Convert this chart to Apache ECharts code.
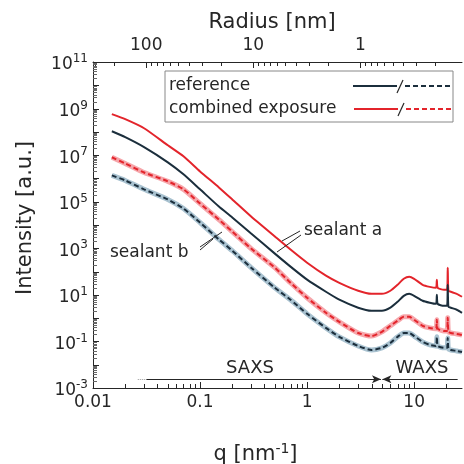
<!DOCTYPE html>
<html>
<head>
<meta charset="utf-8">
<script src="https://cdn.jsdelivr.net/npm/echarts@6/dist/echarts.min.js"></script>
<style>
  html, body { margin: 0; padding: 0; background: #fff; }
  #chart { width: 464px; height: 464px; }
</style>
</head>
<body>
<div id="chart"></div>
<script>
const FONT = 'DejaVu Sans'
const INK = '#262626'
const NAVY = '#1b2e3c'
const RED = '#e3242b'
const NAVY_HALO = '#a9c2d0'
const RED_HALO = '#f6a6ab'

// q [nm^-1]
const q = [0.015, 0.02, 0.03, 0.05, 0.07, 0.1, 0.15, 0.2, 0.3, 0.5, 0.7, 1, 1.5, 2, 3, 4, 5, 6, 7, 8, 9, 10,
  12, 14, 16, 16.3, 16.6, 19, 20.3, 20.6, 20.9, 22, 25, 28]
// sealant a (solid lines)
const refA = [1.06e8, 5.9e7, 2.2e7, 4.9e6, 1.5e6, 3.4e5, 6.2e4, 2.1e4, 4.3e3, 590, 163, 45, 13.6, 6.2, 2.8, 2.07, 2.07, 2.8, 5.0, 9.1, 11.1, 9.1,
  5.6, 4.6, 4.1, 10.1, 4.1, 3.4, 3.4, 27, 3.1, 2.8, 2.3, 1.7]
const combA = [5.8e8, 3.5e8, 1.43e8, 2.65e7, 8.9e6, 2.0e6, 4.1e5, 1.25e5, 2.3e4, 3.2e3, 880, 240, 67, 33, 15, 11.1, 11.1, 15, 27, 49, 60, 49,
  27, 22, 20, 45, 20, 16.6, 16.6, 147, 15, 13.6, 11.1, 8.3]
// sealant b (dashed lines)
const refB = [1.35e6, 8.2e5, 3.4e5, 1.25e5, 5.1e4, 1.28e4, 2.4e3, 790, 147, 20, 6.2, 1.53, 0.38, 0.157, 0.064, 0.043, 0.053, 0.086, 0.157, 0.23, 0.23, 0.17,
  0.095, 0.071, 0.064, 0.157, 0.064, 0.053, 0.053, 0.142, 0.048, 0.043, 0.039, 0.035]
const combB = [8.1e6, 4.4e6, 1.8e6, 7.5e5, 3.4e5, 8.4e4, 1.7e4, 5.2e3, 970, 147, 33, 7.5, 1.7, 0.69, 0.23, 0.17, 0.26, 0.47, 0.77, 1.14, 1.14, 0.85,
  0.47, 0.38, 0.35, 0.85, 0.35, 0.28, 0.28, 1.03, 0.26, 0.23, 0.21, 0.19]

const qMin = 0.01
const qMax = 28
const iMin = 1e-3
const iMax = 1e11
const qTicks = [0.01, 0.1, 1, 10]
const radiusTicks = [100, 10, 1]
const intensityLabels = [1e-3, 1e-1, 1e1, 1e3, 1e5, 1e7, 1e9, 1e11]

// SAXS / WAXS ranges (q), drawn as arrows
const saxsDots = [0.0262, 0.0316]
const saxs = [0.0316, 4.9]
const waxs = [5.05, 25.5]
const arrowLevel = 2.4e-3

const rMin = Math.PI / qMax
const rMax = Math.PI / qMin

// 1..9 x 10^n between lo and hi
function allTicks (lo, hi) {
  const out = []
  for (let e = Math.floor(Math.log10(lo)); e <= Math.ceil(Math.log10(hi)); e++) {
    for (let m = 1; m < 10; m++) {
      const v = +(m * Math.pow(10, e)).toPrecision(3)
      if (v >= lo * 0.999 && v <= hi * 1.001) out.push(v)
    }
  }
  return out
}

function isDecade (v) {
  const l = Math.log10(v)
  return Math.abs(l - Math.round(l)) < 1e-6
}

function pairs (ys) {
  return q.map((x, i) => [x, ys[i]])
}

function curve (ys, color, width, dash, z) {
  return {
    type: 'line',
    data: pairs(ys),
    showSymbol: false,
    symbol: 'none',
    smooth: 0.2,
    z: z,
    lineStyle: { color: color, width: width, type: dash || 'solid' }
  }
}

function sup (v) {
  return '10{sup|' + Math.round(Math.log10(v)) + '}'
}

const noLine = { show: false }
const axisLine = { show: true, onZero: false, lineStyle: { color: INK, width: 1 } }

const chart = echarts.init(document.getElementById('chart'))

const arrowSeries = curve(refA, NAVY, 2, null, 6)
arrowSeries.markLine = {
  silent: true,
  animation: false,
  label: { show: false },
  symbolSize: [6, 9],
  lineStyle: { color: INK, width: 1, type: 'solid' },
  data: [
    [{ coord: [saxsDots[0], arrowLevel], symbol: 'none', lineStyle: { type: 'dotted', color: '#999' } },
      { coord: [saxsDots[1], arrowLevel], symbol: 'none' }],
    [{ coord: [saxs[0], arrowLevel], symbol: 'none' }, { coord: [saxs[1], arrowLevel], symbol: 'arrow' }],
    [{ coord: [waxs[1], arrowLevel], symbol: 'none' }, { coord: [waxs[0], arrowLevel], symbol: 'arrow' }]
  ]
}

const option = {
  animation: false,
  backgroundColor: '#fff',
  textStyle: { fontFamily: FONT },
  grid: { left: 93, right: 2, top: 62, bottom: 76, containLabel: false, outerBoundsMode: 'none' },
  xAxis: [
    {
      type: 'log', position: 'bottom', min: qMin, max: qMax,
      axisLine: axisLine,
      axisTick: noLine,
      minorTick: noLine,
      axisLabel: { customValues: qTicks, formatter: v => String(v), fontSize: 17, fontFamily: FONT, color: INK, margin: 6 },
      splitLine: noLine,
      name: 'q [nm{sup|-1}]',
      nameLocation: 'middle',
      nameGap: 54,
      nameMoveOverlap: false,
      nameTextStyle: {
        fontSize: 21, fontFamily: FONT, color: INK, padding: [0, 44, 0, 0],
        rich: { sup: { fontSize: 14, fontFamily: FONT, color: INK, padding: [0, 0, 12, 0] } }
      }
    },
    {
      type: 'log', position: 'top', inverse: true, min: rMin, max: rMax,
      axisLine: axisLine,
      axisTick: noLine,
      minorTick: noLine,
      axisLabel: { customValues: radiusTicks, formatter: v => String(v), fontSize: 17, fontFamily: FONT, color: INK, margin: 8 },
      splitLine: noLine,
      name: 'Radius [nm]',
      nameLocation: 'middle',
      nameGap: 29,
      nameMoveOverlap: false,
      nameTextStyle: { fontSize: 21, fontFamily: FONT, color: INK, padding: [0, 11, 0, 0] }
    }
  ],
  yAxis: [
    {
      type: 'log', position: 'left', min: iMin, max: iMax,
      axisLine: axisLine,
      axisTick: noLine,
      minorTick: noLine,
      axisLabel: {
        customValues: intensityLabels, formatter: sup, fontSize: 17, fontFamily: FONT, color: INK, margin: 5,
        padding: [6, 0, 0, 0],
        rich: { sup: { fontSize: 12, fontFamily: FONT, color: INK, padding: [0, 0, 12, 0] } }
      },
      splitLine: noLine,
      name: 'Intensity [a.u.]',
      nameLocation: 'middle',
      nameGap: 57,
      nameMoveOverlap: false,
      nameTextStyle: { fontSize: 21, fontFamily: FONT, color: INK, padding: [0, 0, 0, 14] }
    }
  ],
  series: [
    curve(refB, NAVY_HALO, 5, null, 1),
    curve(refB, NAVY, 2, [5, 3], 2),
    curve(combB, RED_HALO, 5, null, 3),
    curve(combB, RED, 2, [5, 3], 4),
    curve(combA, RED, 2, null, 5),
    arrowSeries
  ]
}

const text17 = '17px "DejaVu Sans"'
const decorations = [
  // legend box
  { type: 'rect', z: 100, shape: { x: 165, y: 71, width: 288, height: 51 }, style: { fill: '#fff', stroke: '#888', lineWidth: 1 } },
  { type: 'text', z: 101, style: { x: 169, y: 86, text: 'reference', font: text17, fill: INK, verticalAlign: 'middle', textVerticalAlign: 'middle' } },
  { type: 'text', z: 101, style: { x: 169, y: 109, text: 'combined exposure', font: text17, fill: INK, verticalAlign: 'middle', textVerticalAlign: 'middle' } },
  { type: 'line', z: 101, shape: { x1: 353, y1: 86, x2: 397, y2: 86 }, style: { stroke: NAVY, lineWidth: 2 } },
  { type: 'line', z: 101, shape: { x1: 397, y1: 93, x2: 403, y2: 80 }, style: { stroke: INK, lineWidth: 1.2 } },
  { type: 'line', z: 101, shape: { x1: 405, y1: 86, x2: 453, y2: 86 }, style: { stroke: NAVY, lineWidth: 2, lineDash: [5, 3] } },
  { type: 'line', z: 101, shape: { x1: 354, y1: 109, x2: 398, y2: 109 }, style: { stroke: RED, lineWidth: 2 } },
  { type: 'line', z: 101, shape: { x1: 398, y1: 116, x2: 404, y2: 103 }, style: { stroke: INK, lineWidth: 1.2 } },
  { type: 'line', z: 101, shape: { x1: 406, y1: 109, x2: 453, y2: 109 }, style: { stroke: RED, lineWidth: 2, lineDash: [5, 3] } },
  // annotations
  { type: 'text', z: 101, style: { x: 304, y: 231, text: 'sealant a', font: text17, fill: INK, verticalAlign: 'middle', textVerticalAlign: 'middle' } },
  { type: 'line', z: 101, shape: { x1: 300, y1: 231, x2: 282, y2: 241 }, style: { stroke: INK, lineWidth: 1 } },
  { type: 'line', z: 101, shape: { x1: 301, y1: 235, x2: 277, y2: 252 }, style: { stroke: INK, lineWidth: 1 } },
  { type: 'text', z: 101, style: { x: 110, y: 253, text: 'sealant b', font: text17, fill: INK, verticalAlign: 'middle', textVerticalAlign: 'middle' } },
  { type: 'line', z: 101, shape: { x1: 200, y1: 247, x2: 222, y2: 232 }, style: { stroke: INK, lineWidth: 1 } },
  { type: 'line', z: 101, shape: { x1: 200, y1: 250, x2: 213, y2: 239 }, style: { stroke: INK, lineWidth: 1 } },
  // range labels
  { type: 'text', z: 101, style: { x: 250, y: 368, text: 'SAXS', font: '18px "DejaVu Sans"', fill: INK, align: 'center', textAlign: 'center', verticalAlign: 'middle', textVerticalAlign: 'middle' } },
  { type: 'text', z: 101, style: { x: 422, y: 368, text: 'WAXS', font: '18px "DejaVu Sans"', fill: INK, align: 'center', textAlign: 'center', verticalAlign: 'middle', textVerticalAlign: 'middle' } }
]

chart.setOption(option)

// inward tick marks, placed through the axes' own scales
function tickMarks () {
  const els = []
  const xb = v => chart.convertToPixel({ xAxisIndex: 0 }, v)
  const xt = v => chart.convertToPixel({ xAxisIndex: 1 }, v)
  const yl = v => chart.convertToPixel({ yAxisIndex: 0 }, v)
  const bottom = yl(iMin)
  const top = yl(iMax)
  const left = xb(qMin)
  function seg (x1, y1, x2, y2, color) {
    els.push({ type: 'line', silent: true, z: 50, shape: { x1: x1, y1: y1, x2: x2, y2: y2 }, style: { stroke: color, lineWidth: 1 } })
  }
  allTicks(qMin, qMax).forEach(v => {
    const x = Math.round(xb(v)) + 0.5
    seg(x, bottom, x, bottom - (isDecade(v) ? 6 : 4), INK)
  })
  allTicks(rMin, rMax).forEach(v => {
    const x = Math.round(xt(v)) + 0.5
    seg(x, top, x, top + (isDecade(v) ? 6 : 4), INK)
  })
  allTicks(iMin, iMax).forEach(v => {
    const y = Math.round(yl(v)) + 0.5
    seg(left, y, left + (isDecade(v) ? 6 : 4), y, isDecade(v) ? INK : '#666')
  })
  return els
}

chart.setOption({ graphic: decorations.concat(tickMarks()) })
</script>
</body>
</html>
